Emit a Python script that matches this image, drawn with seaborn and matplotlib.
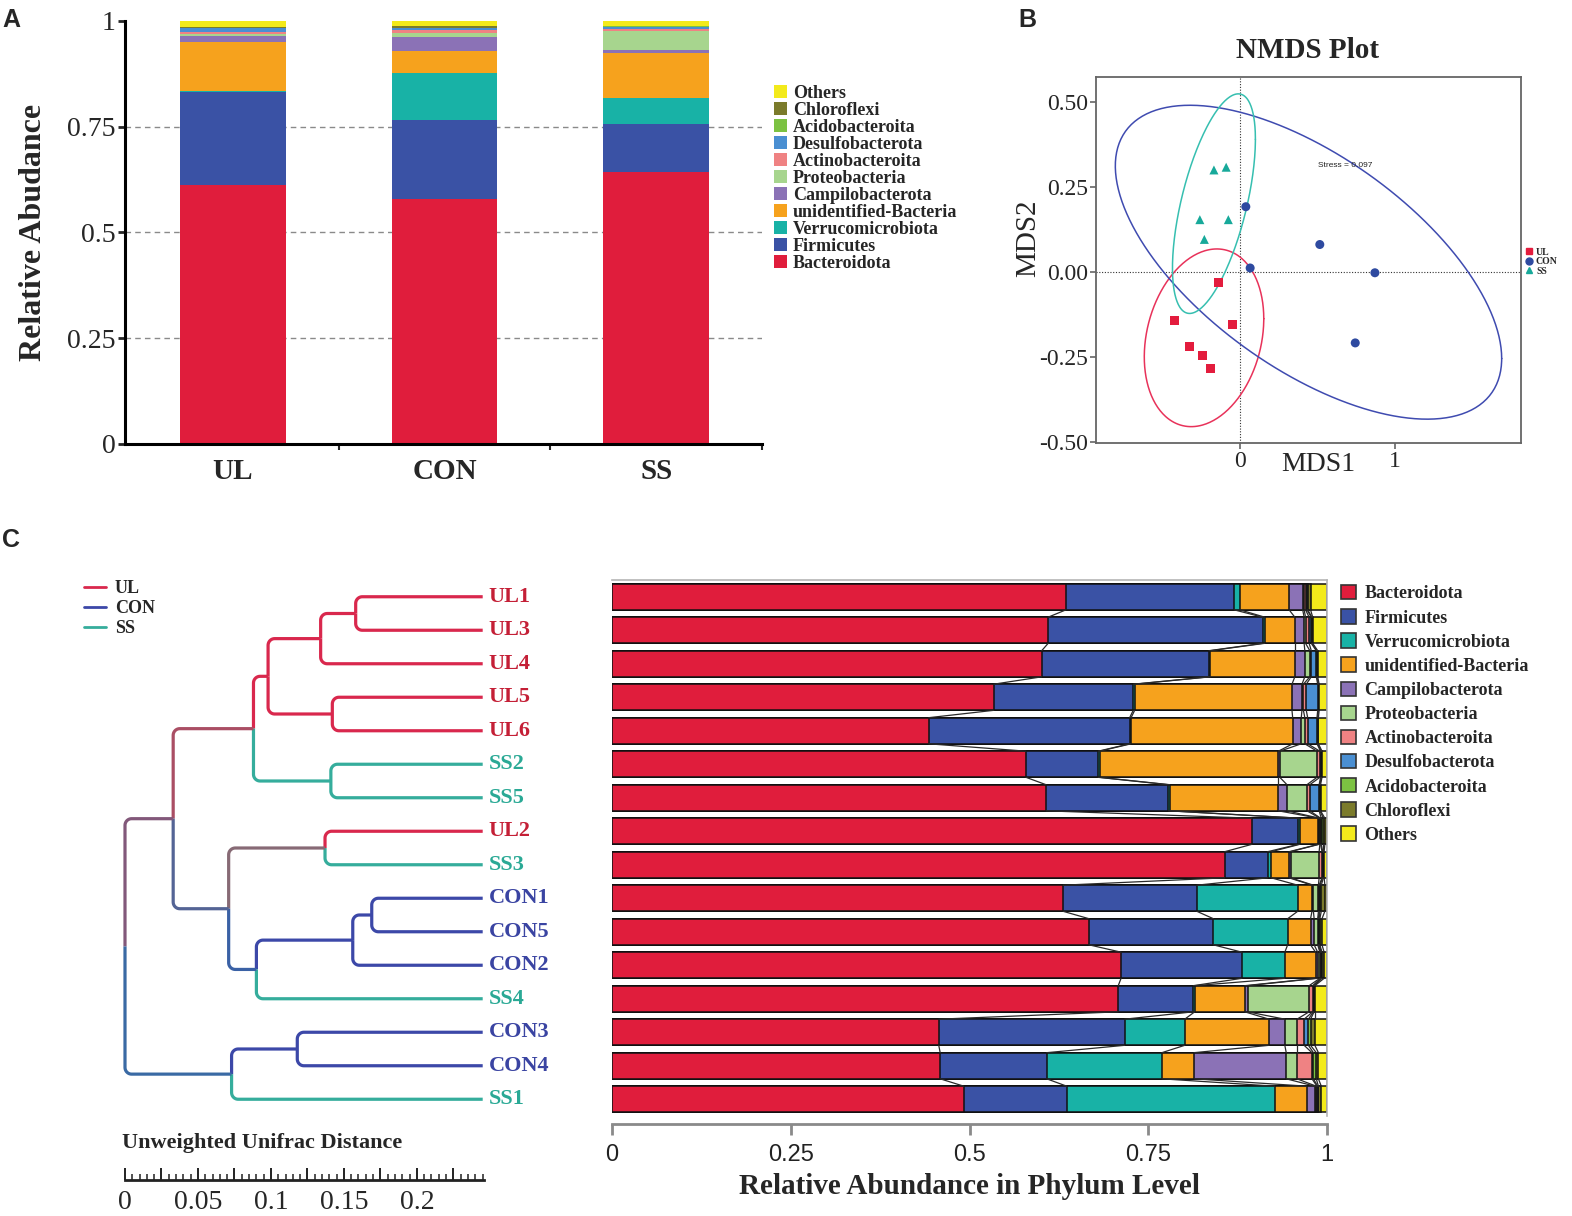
from __future__ import annotations

import matplotlib

matplotlib.use("Agg")

import matplotlib.pyplot as plt
import numpy as np
import pandas as pd
import seaborn as sns
from matplotlib.colors import to_hex, to_rgb
from matplotlib.lines import Line2D
from matplotlib.patches import Patch
from matplotlib.ticker import FuncFormatter, MultipleLocator

SERIF = ["Liberation Serif", "DejaVu Serif"]
SANS = ["Liberation Sans", "DejaVu Sans"]

PHYLA = [
    "Bacteroidota", "Firmicutes", "Verrucomicrobiota", "unidentified-Bacteria",
    "Campilobacterota", "Proteobacteria", "Actinobacteroita", "Desulfobacterota",
    "Acidobacteroita", "Chloroflexi", "Others",
]
PHYLUM_COLORS = ["#e01d3c", "#3a52a5", "#18b2a6", "#f6a21d", "#8b72b6", "#a7d58e",
                 "#ef8283", "#4a8fd2", "#7cc242", "#7b7b2b", "#f3ea1b"]

GROUPS = ["UL", "CON", "SS"]
BRANCH_COLORS = {"UL": "#d9284d", "CON": "#3c48a8", "SS": "#35ad9c"}
LABEL_COLORS = {"UL": "#c41f36", "CON": "#3a44a2", "SS": "#2aa995"}
POINT_COLORS = {"UL": "#e31c3d", "CON": "#2e4aa0", "SS": "#17a99a"}
ELLIPSE_COLORS = ["#e8325a", "#3f4bb0", "#36bfb0"]

# panel A: mean relative abundance per group, same order as PHYLA
ul_mean = [0.612, 0.220, 0.003, 0.115, 0.014, 0.006, 0.003, 0.010, 0.001, 0.001, 0.015]
con_mean = [0.579, 0.187, 0.111, 0.052, 0.033, 0.010, 0.007, 0.004, 0.001, 0.003, 0.013]
ss_mean = [0.643, 0.114, 0.061, 0.107, 0.007, 0.044, 0.005, 0.005, 0.001, 0.001, 0.012]

# panel B: NMDS scores
ul_mds1 = [-0.141, -0.423, -0.052, -0.325, -0.241, -0.195]
ul_mds2 = [-0.031, -0.141, -0.153, -0.220, -0.245, -0.282]
con_mds1 = [0.036, 0.514, 0.064, 0.870, 0.743]
con_mds2 = [0.192, 0.081, 0.012, -0.002, -0.208]
ss_mds1 = [-0.170, -0.091, -0.261, -0.077, -0.232]
ss_mds2 = [0.300, 0.308, 0.154, 0.154, 0.096]

# group ellipses (UL, CON, SS): centre + shape matrix
ell_cx = [-0.234, 0.441, -0.170]
ell_cy = [-0.193, 0.029, 0.201]
ell_sxx = [0.149, 1.558, 0.0718]
ell_syy = [0.0681, 0.2125, 0.104]
ell_sxy = [0.0216, -0.353, 0.0507]
STRESS = 0.097

# panel C: per sample phylum abundance, same order as PHYLA
SAMPLES = ["UL1", "UL3", "UL4", "UL5", "UL6", "SS2", "SS5", "UL2", "SS3",
           "CON1", "CON5", "CON2", "SS4", "CON3", "CON4", "SS1"]
ul1 = [0.635, 0.235, 0.008, 0.069, 0.019, 0.002, 0.002, 0.002, 0.001, 0.004, 0.023]
ul3 = [0.610, 0.300, 0.003, 0.042, 0.013, 0.002, 0.005, 0.003, 0.001, 0.001, 0.020]
ul4 = [0.601, 0.234, 0.002, 0.118, 0.014, 0.007, 0.002, 0.007, 0.001, 0.001, 0.013]
ul5 = [0.534, 0.195, 0.002, 0.220, 0.014, 0.002, 0.004, 0.016, 0.001, 0.001, 0.011]
ul6 = [0.443, 0.281, 0.002, 0.226, 0.012, 0.005, 0.004, 0.013, 0.001, 0.001, 0.012]
ss2 = [0.579, 0.101, 0.002, 0.250, 0.002, 0.052, 0.004, 0.001, 0.001, 0.001, 0.007]
ss5 = [0.607, 0.171, 0.002, 0.152, 0.012, 0.028, 0.004, 0.013, 0.001, 0.001, 0.009]
ul2 = [0.895, 0.065, 0.002, 0.026, 0.001, 0.001, 0.001, 0.001, 0.003, 0.002, 0.003]
ss3 = [0.857, 0.060, 0.005, 0.025, 0.002, 0.040, 0.004, 0.001, 0.001, 0.001, 0.004]
con1 = [0.631, 0.187, 0.141, 0.020, 0.002, 0.007, 0.001, 0.001, 0.002, 0.005, 0.003]
con5 = [0.667, 0.174, 0.104, 0.032, 0.005, 0.005, 0.001, 0.001, 0.001, 0.003, 0.007]
con2 = [0.712, 0.169, 0.060, 0.043, 0.003, 0.003, 0.001, 0.001, 0.001, 0.003, 0.004]
ss4 = [0.708, 0.105, 0.002, 0.070, 0.004, 0.086, 0.005, 0.001, 0.001, 0.001, 0.017]
con3 = [0.457, 0.260, 0.084, 0.118, 0.022, 0.017, 0.010, 0.006, 0.003, 0.006, 0.017]
con4 = [0.459, 0.149, 0.161, 0.045, 0.129, 0.015, 0.021, 0.002, 0.004, 0.003, 0.012]
ss1 = [0.492, 0.144, 0.291, 0.045, 0.011, 0.002, 0.001, 0.001, 0.001, 0.004, 0.008]
sample_rows = [ul1, ul3, ul4, ul5, ul6, ss2, ss5, ul2, ss3,
               con1, con5, con2, ss4, con3, con4, ss1]

# UPGMA tree: merge k creates node "n{k}" at the given position on the distance scale
merge_left = ["UL1", "n0", "UL5", "n1", "SS2", "n3", "UL2", "CON1", "n7", "n8",
              "n6", "n5", "CON3", "n12", "n11"]
merge_right = ["UL3", "UL4", "UL6", "n2", "SS5", "n4", "SS3", "CON5", "CON2", "SS4",
               "n9", "n10", "CON4", "SS1", "n13"]
merge_pos = [0.158, 0.134, 0.142, 0.098, 0.141, 0.088, 0.137, 0.169, 0.156, 0.090,
             0.071, 0.033, 0.118, 0.073, 0.0]
LEAF_POS = 0.245
SCALE_MAX = 0.246

W, H = 1572, 1216


def fig_rect(x0, y0, x1, y1):
    return [x0 / W, 1 - y1 / H, (x1 - x0) / W, (y1 - y0) / H]


def group_of(name):
    return name.rstrip("0123456789")


def plot_group_bars(fig):
    ax = fig.add_axes(fig_rect(125, 21, 762, 444))
    table = pd.DataFrame([ul_mean, con_mean, ss_mean], index=GROUPS, columns=PHYLA)
    cum = table.cumsum(axis=1)
    for phylum, color in reversed(list(zip(PHYLA, PHYLUM_COLORS))):
        sns.barplot(x=GROUPS, y=cum[phylum].values, order=GROUPS, color=color,
                    saturation=1, width=0.5, linewidth=0, errorbar=None, ax=ax, zorder=2)
    for level in (0.25, 0.5, 0.75):
        ax.axhline(level, color="#8a8a8a", lw=1, ls=(0, (4, 3)), zorder=0.5)
    ax.set_xlim(-0.51, 2.5)
    ax.set_ylim(0, 1.0)
    ax.set_yticks([0, 0.25, 0.5, 0.75, 1])
    ax.set_yticklabels(["0", "0.25", "0.5", "0.75", "1"])
    ax.set_xticks([0.5, 1.5, 2.5], minor=True)
    for side in ("top", "right"):
        ax.spines[side].set_visible(False)
    for side in ("left", "bottom"):
        ax.spines[side].set_color("black")
        ax.spines[side].set_linewidth(2.2)
    ax.tick_params(axis="y", left=True, labelsize=20, length=5, width=2,
                   direction="out", pad=2)
    ax.tick_params(axis="x", which="major", bottom=False, labelsize=21, pad=4)
    ax.tick_params(axis="x", which="minor", bottom=True, length=4, width=1.5,
                   direction="out")
    for lab in ax.get_xticklabels():
        lab.set_fontweight("bold")
    ax.set_ylabel("Relative Abudance", fontsize=23, fontweight="bold")
    ax.yaxis.set_label_coords(-0.121, 0.5)
    ax.set_xlabel("")

    handles = [Patch(facecolor=c, edgecolor="none") for c in reversed(PHYLUM_COLORS)]
    fig.legend(handles, list(reversed(PHYLA)), loc="upper left",
               bbox_to_anchor=(774 / W, 1 - 85 / H), frameon=False,
               prop={"family": SERIF, "weight": "bold", "size": 13},
               handlelength=0.7, handleheight=0.7, handletextpad=0.35,
               labelspacing=0.0, borderpad=0, borderaxespad=0)


def plot_nmds(fig):
    ax = fig.add_axes(fig_rect(1096, 77, 1521, 443))
    nmds = pd.DataFrame({
        "MDS1": ul_mds1 + con_mds1 + ss_mds1,
        "MDS2": ul_mds2 + con_mds2 + ss_mds2,
        "group": ["UL"] * len(ul_mds1) + ["CON"] * len(con_mds1) + ["SS"] * len(ss_mds1),
    })
    ax.axhline(0, color="#333333", lw=0.8, ls=(0, (1, 1.5)), zorder=1)
    ax.axvline(0, color="#333333", lw=0.8, ls=(0, (1, 1.5)), zorder=1)

    t = np.linspace(0, 2 * np.pi, 300)
    for cx, cy, sxx, syy, sxy, color in zip(ell_cx, ell_cy, ell_sxx, ell_syy, ell_sxy,
                                              ELLIPSE_COLORS):
        chol = np.linalg.cholesky(np.array([[sxx, sxy], [sxy, syy]]))
        pts = chol @ np.vstack([np.cos(t), np.sin(t)])
        ax.plot(cx + pts[0], cy + pts[1], color=color, lw=1.1, zorder=2)

    sns.scatterplot(data=nmds, x="MDS1", y="MDS2", hue="group", style="group",
                    hue_order=GROUPS, palette=POINT_COLORS,
                    markers={"UL": "s", "CON": "o", "SS": "^"},
                    s=42, linewidth=0, legend=False, ax=ax, zorder=3)

    ax.text(0.68, 0.312, f"Stress = {STRESS}", fontsize=6, family=SANS,
            ha="center", va="center", color="#222222")
    ax.set_xlim(-0.932, 1.814)
    ax.set_ylim(-0.502, 0.573)
    ax.set_xticks([0, 1])
    ax.set_xticklabels(["0", "1"])
    ax.set_yticks([-0.5, -0.25, 0, 0.25, 0.5])
    ax.set_yticklabels(["-0.50", "-0.25", "0.00", "0.25", "0.50"])
    for side in ax.spines.values():
        side.set_color("#666666")
        side.set_linewidth(1.3)
    ax.tick_params(axis="both", bottom=True, left=True, labelsize=17, length=4,
                   width=1.2, color="#666666", direction="out", pad=2)
    ax.set_xlabel("")
    ax.set_ylabel("")
    ax.text(0.522, -0.06, "MDS1", transform=ax.transAxes, fontsize=20,
            ha="center", va="center")
    ax.text(-0.16, 0.56, "MDS2", transform=ax.transAxes, fontsize=21,
            ha="center", va="center", rotation=90)
    fig.text(1307 / W, 1 - 50 / H, "NMDS Plot", fontsize=21, fontweight="bold",
             ha="center", va="center")

    handles = [Line2D([], [], ls="none", marker=m, color=POINT_COLORS[g], markersize=5)
               for g, m in zip(GROUPS, ["s", "o", "^"])]
    ax.legend(handles, GROUPS, loc="center left", bbox_to_anchor=(1.01, 0.495),
              frameon=False, prop={"family": SERIF, "weight": "bold", "size": 7},
              handlelength=0.8, handletextpad=0.3, labelspacing=0.05,
              borderpad=0, borderaxespad=0)


def plot_phylum_bars(fig):
    ax = fig.add_axes(fig_rect(612, 580, 1327, 1116))
    table = pd.DataFrame(sample_rows, index=SAMPLES, columns=PHYLA)
    cum = table.cumsum(axis=1)
    bar_h = 0.78
    for phylum, color in reversed(list(zip(PHYLA, PHYLUM_COLORS))):
        sns.barplot(x=cum[phylum].values, y=SAMPLES, order=SAMPLES, orient="h",
                    color=color, saturation=1, width=bar_h, edgecolor="#111111",
                    linewidth=1.1, errorbar=None, ax=ax, zorder=2)

    values = cum.values
    for i in range(len(SAMPLES) - 1):
        for k in range(len(PHYLA)):
            ax.plot([values[i, k], values[i + 1, k]],
                    [i + bar_h / 2, i + 1 - bar_h / 2],
                    color="#2a2a2a", lw=0.9, zorder=3)

    ax.set_xlim(0, 1)
    ax.set_ylim(len(SAMPLES) - 0.5, -0.5)
    ax.set_yticks([])
    ax.set_ylabel("")
    ax.set_xlabel("")
    ax.set_xticks([0, 0.25, 0.5, 0.75, 1])
    ax.set_xticklabels(["0", "0.25", "0.5", "0.75", "1"])
    ax.spines["left"].set_visible(False)
    for side in ("top", "right"):
        ax.spines[side].set_color("#b5b5b5")
        ax.spines[side].set_linewidth(1.2)
    ax.spines["bottom"].set_position(("outward", 6))
    ax.spines["bottom"].set_color("#8a8a8a")
    ax.spines["bottom"].set_linewidth(2)
    ax.tick_params(axis="x", bottom=True, labelsize=17, length=8, width=2,
                   color="#8a8a8a", direction="out", pad=6, labelcolor="#222222")
    for lab in ax.get_xticklabels():
        lab.set_fontfamily(SANS)
    fig.text(969 / W, 1 - 1187 / H, "Relative Abundance in Phylum Level", fontsize=21,
             fontweight="bold", ha="center", va="center")

    handles = [Patch(facecolor=c, edgecolor="#333333", linewidth=1.2) for c in PHYLUM_COLORS]
    fig.legend(handles, PHYLA, loc="upper left", bbox_to_anchor=(1341 / W, 1 - 585 / H),
               frameon=False, prop={"family": SERIF, "weight": "bold", "size": 13},
               handlelength=0.85, handleheight=0.85, handletextpad=0.45,
               labelspacing=0.37, borderpad=0, borderaxespad=0)


def elbow(px, py, cx, cy, rx=0.0045, ry=0.2):
    s = np.sign(cy - py)
    t = np.linspace(0, np.pi / 2, 12)
    arc_x = px + rx - rx * np.cos(t)
    arc_y = cy - s * ry + s * ry * np.sin(t)
    return np.r_[px, arc_x, cx], np.r_[py, arc_y, cy]


def plot_dendrogram(fig):
    ax = fig.add_axes(fig_rect(60, 580, 600, 1116))
    pos = {name: LEAF_POS for name in SAMPLES}
    row = {name: float(i) for i, name in enumerate(SAMPLES)}
    rgb = {name: np.array(to_rgb(BRANCH_COLORS[group_of(name)])) for name in SAMPLES}
    size = {name: 1 for name in SAMPLES}

    for k, (left, right, x) in enumerate(zip(merge_left, merge_right, merge_pos)):
        node = f"n{k}"
        pos[node] = x
        row[node] = (row[left] + row[right]) / 2
        size[node] = size[left] + size[right]
        rgb[node] = (rgb[left] * size[left] + rgb[right] * size[right]) / size[node]
        for child in (left, right):
            xs, ys = elbow(x, row[node], pos[child], row[child])
            ax.plot(xs, ys, color=to_hex(rgb[child]), lw=2.3,
                    solid_capstyle="butt", solid_joinstyle="round")

    for name in SAMPLES:
        ax.text(LEAF_POS + 0.004, row[name], name, color=LABEL_COLORS[group_of(name)],
                fontsize=16, fontweight="bold", ha="left", va="center")

    ax.set_xlim(-65 / 1460, 475 / 1460)
    ax.set_ylim(len(SAMPLES) - 0.5, -0.5)
    ax.axis("off")

    handles = [Line2D([], [], color=BRANCH_COLORS[g], lw=2) for g in GROUPS]
    fig.legend(handles, GROUPS, loc="upper left", bbox_to_anchor=(84 / W, 1 - 580 / H),
               frameon=False, prop={"family": SERIF, "weight": "bold", "size": 13},
               handlelength=1.2, handletextpad=0.5, labelspacing=0.17,
               borderpad=0, borderaxespad=0)

    # distance scale bar
    sc = fig.add_axes(fig_rect(125, 1160, 484, 1180))
    sc.set_xlim(0, SCALE_MAX)
    sc.set_yticks([])
    for side in ("top", "right", "left"):
        sc.spines[side].set_visible(False)
    sc.spines["bottom"].set_linewidth(2)
    sc.spines["bottom"].set_color("#222222")
    sc.xaxis.set_major_locator(MultipleLocator(0.025))
    sc.xaxis.set_minor_locator(MultipleLocator(0.005))

    def scale_label(v, _):
        steps = v / 0.05
        return f"{round(v, 3):g}" if abs(steps - round(steps)) < 1e-6 else ""

    sc.xaxis.set_major_formatter(FuncFormatter(scale_label))
    sc.tick_params(axis="x", which="major", bottom=True, direction="in", length=9,
                   width=1.4, labelsize=20, pad=7, color="#222222")
    sc.tick_params(axis="x", which="minor", bottom=True, direction="in", length=4.5,
                   width=1.1, color="#222222")
    sc.patch.set_alpha(0)
    fig.text(122 / W, 1 - 1143 / H, "Unweighted Unifrac Distance", fontsize=16,
             fontweight="bold", ha="left", va="center")


def main():
    sns.set_theme(style="white")
    plt.rcParams["font.family"] = SERIF
    plt.rcParams["axes.facecolor"] = "white"

    fig = plt.figure(figsize=(W / 100, H / 100), dpi=100)
    plot_group_bars(fig)
    plot_nmds(fig)
    plot_dendrogram(fig)
    plot_phylum_bars(fig)

    for letter, x, y in (("A", 2, 8), ("B", 1018, 8), ("C", 2, 528)):
        fig.text(x / W, 1 - y / H, letter, fontsize=18, fontweight="bold",
                 family=SANS, ha="left", va="top")

    fig.savefig("out.png", dpi=100, facecolor="white")
    plt.close(fig)


if __name__ == "__main__":
    main()
